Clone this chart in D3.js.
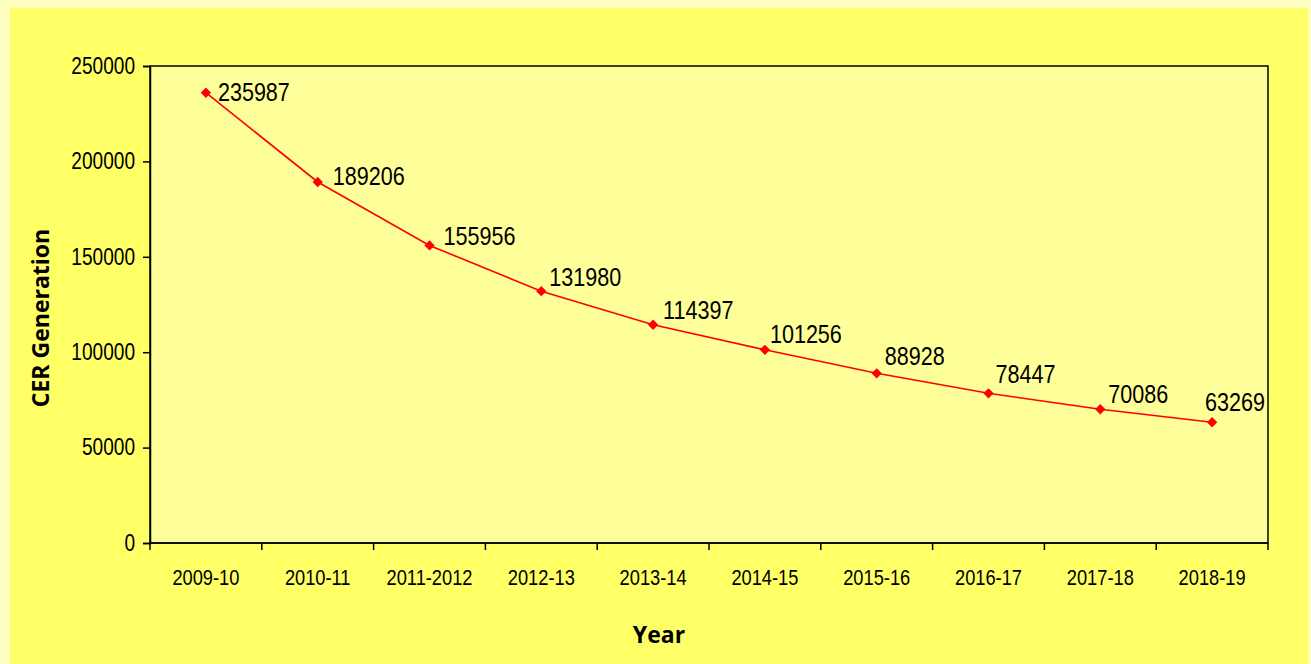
<!DOCTYPE html>
<html>
<head>
<meta charset="utf-8">
<script src="https://cdn.jsdelivr.net/npm/d3@7"></script>
<style>
  html, body { margin: 0; padding: 0; background: #ffffc2; }
  svg { display: block; }
</style>
</head>
<body>
<div id="chart"></div>
<script>
// chart data
const years = ['2009-10', '2010-11', '2011-2012', '2012-13', '2013-14', '2014-15', '2015-16', '2016-17', '2017-18', '2018-19'];
const cerValues = [235987, 189206, 155956, 131980, 114397, 101256, 88928, 78447, 70086, 63269];
const yTicks = [0, 50000, 100000, 150000, 200000, 250000];

// label nudges (px) relative to each marker, as laid out in the original
const labelDx = [12, 15, 14, 8, 10, 5, 8, 7, 8, -7];
const labelDy = [8, 3, 0, -5, -6, -7, -8, -10, -6, -11];

const width = 1311;
const height = 664;
const margin = { top: 66, right: 43, bottom: 121, left: 150 };
const sans = '"Liberation Sans", Arial, sans-serif';
const titleFont = '"Open Sans", Verdana, sans-serif';
const squeeze = 0.83; // narrow look of the original text

// place a text at (px, py) and squeeze it horizontally
const narrowAt = (sel, px, py) =>
  sel.attr('x', 0).attr('y', 0)
    .attr('transform', (d, i) => 'translate(' + px(d, i) + ',' + py(d, i) + ') scale(' + squeeze + ',1)');

const svg = d3.select('#chart')
  .append('svg')
  .attr('width', width)
  .attr('height', height);

// outer pale frame + yellow chart area
svg.append('rect')
  .attr('width', width).attr('height', height)
  .style('fill', '#ffffc2');

svg.append('rect')
  .attr('x', 10).attr('y', 8)
  .attr('width', 1298).attr('height', height - 8)
  .style('fill', '#ffff66');

const plotW = width - margin.left - margin.right;
const plotH = height - margin.top - margin.bottom;

const g = svg.append('g')
  .attr('transform', 'translate(' + margin.left + ',' + margin.top + ')');

g.append('rect')
  .attr('width', plotW).attr('height', plotH)
  .style('fill', '#ffff99')
  .style('stroke', '#000')
  .style('stroke-width', 1.5);

const x = d3.scaleBand().domain(years).range([0, plotW]);
const y = d3.scaleLinear().domain([0, 250000]).range([plotH, 0]);

// y axis
const yAxis = g.append('g')
  .call(d3.axisLeft(y).tickValues(yTicks).tickSize(7).tickPadding(8).tickFormat(d3.format('d')));
yAxis.select('.domain').style('stroke', '#000').style('stroke-width', 1.5);
yAxis.selectAll('line').style('stroke', '#000').style('stroke-width', 1.5);
yAxis.selectAll('text')
  .attr('transform', 'scale(' + squeeze + ',1)')
  .attr('x', -15 / squeeze)
  .style('font-family', sans)
  .style('font-size', '23px')
  .style('fill', '#000');

// x axis: ticks at category boundaries
const xAxis = g.append('g')
  .attr('transform', 'translate(0,' + plotH + ')');
xAxis.append('line')
  .attr('x1', 0).attr('x2', plotW)
  .style('stroke', '#000').style('stroke-width', 1.5);
const bounds = years.map(d => x(d)).concat([plotW]);
xAxis.selectAll('.xtick')
  .data(bounds)
  .enter()
  .append('line')
  .attr('x1', d => d).attr('x2', d => d)
  .attr('y1', 0).attr('y2', 7)
  .style('stroke', '#000').style('stroke-width', 1.5);
xAxis.selectAll('.xlabel')
  .data(years)
  .enter()
  .append('text')
  .text(d => d)
  .call(narrowAt, d => x(d) + x.bandwidth() / 2, () => 42)
  .attr('text-anchor', 'middle')
  .style('font-family', sans)
  .style('font-size', '22px')
  .style('fill', '#000');

// line
const cx = i => x(years[i]) + x.bandwidth() / 2;
const line = d3.line()
  .x((d, i) => cx(i))
  .y(d => y(d));

g.append('path')
  .datum(cerValues)
  .attr('d', line)
  .style('fill', 'none')
  .style('stroke', '#ff0000')
  .style('stroke-width', 1.6);

// diamond markers
g.selectAll('.marker')
  .data(cerValues)
  .enter()
  .append('path')
  .attr('d', d3.symbol().type(d3.symbolDiamond2).size(68))
  .attr('transform', (d, i) => 'translate(' + cx(i) + ',' + y(d) + ')')
  .style('fill', '#ff0000');

// value labels
g.selectAll('.vlabel')
  .data(cerValues)
  .enter()
  .append('text')
  .text(d => d)
  .call(narrowAt, (d, i) => cx(i) + labelDx[i], (d, i) => y(d) + labelDy[i])
  .style('font-family', sans)
  .style('font-size', '26px')
  .style('fill', '#000');

// axis titles
svg.append('text')
  .text('CER Generation')
  .attr('transform', 'translate(49,318) rotate(-90)')
  .attr('text-anchor', 'middle')
  .style('font-family', titleFont)
  .style('font-weight', 'bold')
  .style('font-size', '23px')
  .style('fill', '#000');

svg.append('text')
  .text('Year')
  .attr('x', 659)
  .attr('y', 643)
  .attr('text-anchor', 'middle')
  .style('font-family', titleFont)
  .style('font-weight', 'bold')
  .style('font-size', '23px')
  .style('fill', '#000');
</script>
</body>
</html>
